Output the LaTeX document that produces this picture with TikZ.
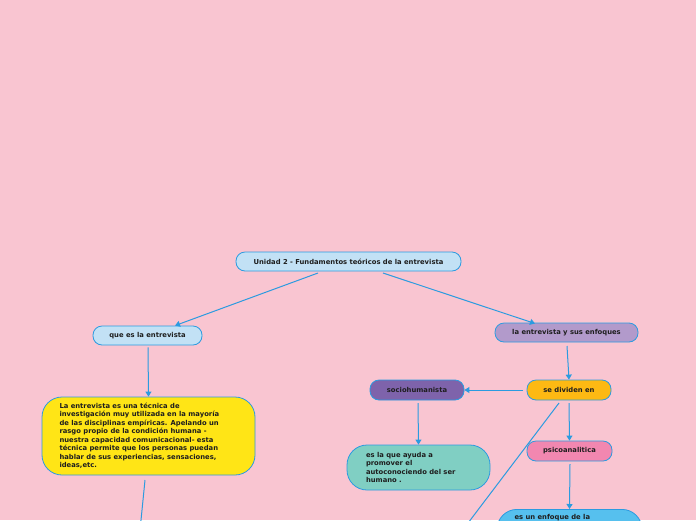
\documentclass[tikz,border=0pt]{standalone}
\usepackage{fontspec}
\setmainfont{DejaVu Sans}
\usetikzlibrary{arrows.meta}
\definecolor{bgpink}{HTML}{F9C5D1}
\definecolor{edgeblue}{HTML}{2B9BE0}
\definecolor{lightblue}{HTML}{C2E1F5}
\definecolor{lilac}{HTML}{B29ACB}
\definecolor{orangey}{HTML}{FDB913}
\definecolor{darkpurple}{HTML}{7E63AB}
\definecolor{teal}{HTML}{80CFC3}
\definecolor{pinky}{HTML}{F287B0}
\definecolor{yel}{HTML}{FFE516}
\definecolor{skyb}{HTML}{56C0EE}
\definecolor{txt}{HTML}{1E1E1E}
\tikzset{
  box/.style={draw=edgeblue, line width=0.8pt, rounded corners=9pt, text=txt,
    font=\bfseries\fontsize{6.8}{8.5}\selectfont, inner sep=0pt},
  conn/.style={draw=edgeblue, line width=1pt, -{Triangle[length=5pt,width=6pt]}},
  plain/.style={draw=edgeblue, line width=1pt}
}
\begin{document}
\begin{tikzpicture}[x=1pt,y=-1pt]
\fill[bgpink] (0,0) rectangle (696,520);
\useasboundingbox (0,0) rectangle (696,520);
\clip (0,0) rectangle (696,520);

\node[box, fill=lightblue, minimum width=225pt, minimum height=19pt] (title) at (348.5,261.5) {Unidad 2 - Fundamentos teóricos de la entrevista};
\node[box, fill=lightblue, minimum width=109pt, minimum height=19pt] (que) at (147.5,335.5) {que es la entrevista};
\node[box, fill=lilac, minimum width=143pt, minimum height=19pt] (enf) at (566.5,332.5) {la entrevista y sus enfoques};
\node[box, fill=orangey, minimum width=84pt, minimum height=20pt] (div) at (569,390) {se dividen en};
\node[box, fill=darkpurple, minimum width=94pt, minimum height=20pt] (socio) at (417,390) {sociohumanista};
\node[box, fill=pinky, minimum width=85pt, minimum height=20pt] (psico) at (569.5,451) {psicoanalitica};
\node[box, fill=teal, rounded corners=20pt, minimum width=143pt, minimum height=45pt] (teal) at (418.5,467.5)
  {\parbox{105pt}{\raggedright es la que ayuda a\\ promover el\\ autoconociendo del ser\\ humano .}};
\node[box, fill=yel, rounded corners=20pt, minimum width=213pt, minimum height=78pt] (yel) at (148.5,436)
  {\parbox{178pt}{\raggedright La entrevista es una técnica de\\ investigación muy utilizada en la mayoría\\ de las disciplinas empíricas. Apelando un\\ rasgo propio de la condición humana -\\ nuestra capacidad comunicacional- esta\\ técnica permite que los personas puedan\\ hablar de sus experiencias, sensaciones,\\ ideas,etc.}};
\node[box, fill=skyb, rounded corners=20pt, minimum width=145pt, minimum height=50pt, anchor=north] (blue) at (569.5,509)
  {\parbox{110pt}{\vspace*{-22pt}\raggedright es un enfoque de la\\ \phantom{x}}};

\coordinate (yelout) at (137,560);
\coordinate (divout) at (440,560);

\draw[conn] (318,273) -- (que.north -| 175,0);
\draw[conn] (383,273) -- (535,323.5);
\draw[conn] (que.south) ++(0.5,2) -- (yel.north);
\draw[plain] (145,480) -- (yelout);
\draw[conn] (567,346) -- (div.north);
\draw[conn] (523,390) -- (socio.east);
\draw[conn] (418,403) -- (teal.north);
\draw[conn] (569,403) -- (psico.north);
\draw[conn] (570,464) -- (blue.north);
\draw[plain] (559,403) -- (divout);
\end{tikzpicture}
\end{document}
